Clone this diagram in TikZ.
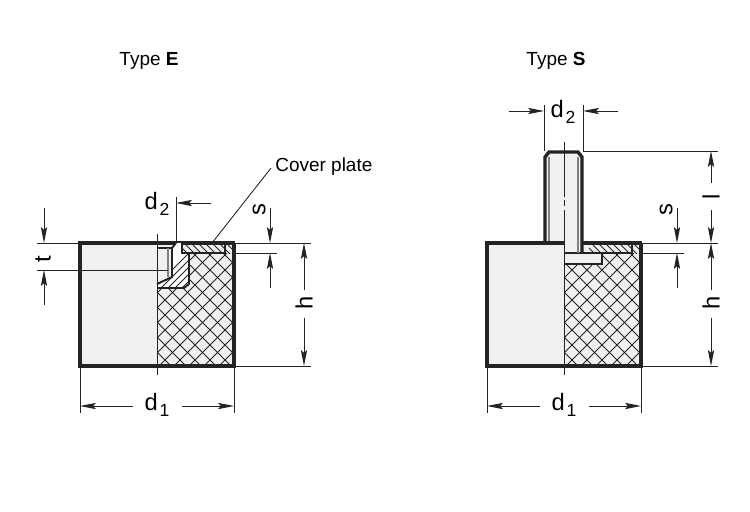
\documentclass[tikz,border=0pt]{standalone}
\usepackage{fontspec}
\setmainfont{Liberation Sans}
\usetikzlibrary{arrows.meta}
\definecolor{partgray}{HTML}{EFF0F2}
\definecolor{inkline}{HTML}{232323}
\tikzset{
  outline/.style={inkline,line width=1.9pt},
  hatchline/.style={inkline,line width=0.55pt},
  thinline/.style={inkline,line width=0.5pt},
  insertline/.style={inkline,line width=1.1pt},
  dimarrow/.style={inkline,line width=0.5pt,-{Stealth[length=9pt,width=3.5pt,inset=1.5pt]}},
  typelabel/.style={font=\fontsize{10.8}{12}\selectfont},
  dimlabel/.style={font=\fontsize{13.5}{15}\selectfont},
}
\newcommand{\subnum}[1]{\kern1pt\raisebox{-3pt}{\fontsize{10}{10}\selectfont #1}}
\begin{document}
\begin{tikzpicture}[x=0.02cm,y=-0.02cm]
  \useasboundingbox (0,0) rectangle (750,511);

  \node[typelabel] (typeE) at (149,61) {Type \textbf{E}};
  \node[typelabel] (typeS) at (556,61) {Type \textbf{S}};

  % parts both mounts share
  \foreach \xo in {0,407}{
    \fill[partgray] (80+\xo,243) rectangle (234+\xo,366);
    \begin{scope}
      \clip (157+\xo,253) rectangle (234+\xo,366);
      \foreach \n in {0,1,...,16}{
        \draw[hatchline] (156+\xo+\n*15,366) -- ++(-140,-140);
        \draw[hatchline] (9+\xo+\n*15,366) -- ++(140,-140);
      }
    \end{scope}
    % cover plate
    \begin{scope}
      \clip (182+\xo,243) rectangle (234+\xo,253);
      \foreach \n in {0,1,...,10}{
        \draw[hatchline] (170+\xo+\n*7,243) -- ++(12,12);
      }
    \end{scope}
    \draw[insertline] (182+\xo,253) -- (225+\xo,253) -- (225+\xo,243);
    \draw[outline] (235+\xo,243) -- (80+\xo,243) -- (80+\xo,366) -- (234+\xo,366) -- (234+\xo,243);
    % d1
    \node[dimlabel] (dA\xo) at (157+\xo,405) {d\subnum{1}};
    \coordinate (dAleft\xo) at (80+\xo,406);
    \coordinate (dAright\xo) at (234+\xo,406);
    \draw[thinline] (80+\xo,366) -- (80+\xo,413);
    \draw[thinline] (234+\xo,366) -- (234+\xo,413);
    \draw[dimarrow] (133+\xo,406) -- (dAleft\xo);
    \draw[dimarrow] (182+\xo,406) -- (dAright\xo);
    % s
    \node[dimlabel,rotate=90] (sval\xo) at (259+\xo,210) {s};
    \draw[thinline] (234+\xo,253) -- (277+\xo,253);
    \draw[dimarrow] (270+\xo,208) -- (270+\xo,243);
    \draw[dimarrow] (270+\xo,288) -- (270+\xo,253);
    % h
    \node[dimlabel,rotate=90] (hval\xo) at (304+\xo,303) {h};
    \draw[thinline] (234+\xo,243) -- (311+\xo,243);
    \draw[thinline] (234+\xo,366) -- (311+\xo,366);
    \draw[dimarrow] (304+\xo,290) -- (304+\xo,243);
    \draw[dimarrow] (304+\xo,318) -- (304+\xo,366);
  }

  % type E insert
  \fill[white] (157,288) -- (184,288) -- (189,284) -- (189,253) -- (182,253) -- (182,243) -- (176,243) -- (172,248) -- (172,277) -- (157,284) -- cycle;
  \fill[partgray] (157,248) rectangle (172,277);
  \fill[partgray] (157,277) -- (172,277) -- (157,284) -- cycle;
  \begin{scope}
    \clip (157,288) -- (184,288) -- (189,284) -- (189,253) -- (182,253) -- (182,243) -- (176,243) -- (172,248) -- (172,277) -- (157,284) -- cycle;
    \foreach \n in {0,1,...,9}{
      \draw[hatchline] (150+\n*7,292) -- ++(50,-50);
    }
  \end{scope}
  \draw[insertline] (157,284) -- (172,277) -- (172,248) -- (176,243);
  \draw[insertline] (157,248) -- (172,248);
  \draw[insertline] (182,243) -- (182,253) -- (189,253) -- (189,284) -- (184,288) -- (157,288);
  \draw[gray,line width=0.8pt] (168,248) -- (168,277);
  \draw[thinline] (157,234) -- (157,375);
  % type E labels
  \node[dimlabel] (dBE) at (157,204) {d\subnum{2}};
  \coordinate (dBEtip) at (176,203);
  \draw[thinline] (176,197) -- (176,243);
  \draw[dimarrow] (211,203) -- (dBEtip);
  \node[dimlabel,rotate=90] (tval) at (43,259) {t};
  \draw[thinline] (37,243) -- (80,243);
  \draw[thinline] (37,270) -- (168,270);
  \draw[dimarrow] (44,208) -- (44,243);
  \draw[dimarrow] (44,305) -- (44,270);
  \node[typelabel,anchor=west,inner sep=0pt] (coverplate) at (275,167) {Cover plate};
  \coordinate (platepoint) at (212,243);
  \draw[thinline] (coverplate.west) ++(-4,1) -- (platepoint);

  % type S stud
  \fill[partgray] (545,243) -- (545,157) -- (549,152) -- (578,152) -- (582,157) -- (582,253) -- (564,253) -- (564,243) -- cycle;
  \fill[partgray] (564,253) rectangle (602,264);
  \draw[thinline] (564,264) -- (602,264);
  \draw[insertline] (564,253) -- (602,253) -- (602,264) -- (564,264);
  \draw[gray,line width=0.9pt] (549,157) -- (549,243);
  \draw[gray,line width=0.9pt] (578,157) -- (578,253);
  \draw[outline] (545,243) -- (545,157) -- (549,152) -- (578,152) -- (582,157) -- (582,253);
  \draw[outline] (545,243) -- (564,243);
  \draw[thinline] (564,142) -- (564,197);
  \draw[thinline] (564,200) -- (564,206);
  \draw[thinline] (564,210) -- (564,375);
  % type S labels
  \node[dimlabel] (dBS) at (563,112) {d\subnum{2}};
  \coordinate (dBSleft) at (544,111);
  \coordinate (dBSright) at (583,111);
  \draw[thinline] (544,105) -- (544,151);
  \draw[thinline] (583,105) -- (583,151);
  \draw[dimarrow] (509,111) -- (dBSleft);
  \draw[dimarrow] (618,111) -- (dBSright);
  \node[dimlabel,rotate=90] (lval) at (711,197) {l};
  \draw[thinline] (583,151) -- (718,151);
  \draw[dimarrow] (711,183) -- (711,151);
  \draw[dimarrow] (711,210) -- (711,243);
\end{tikzpicture}
\end{document}
